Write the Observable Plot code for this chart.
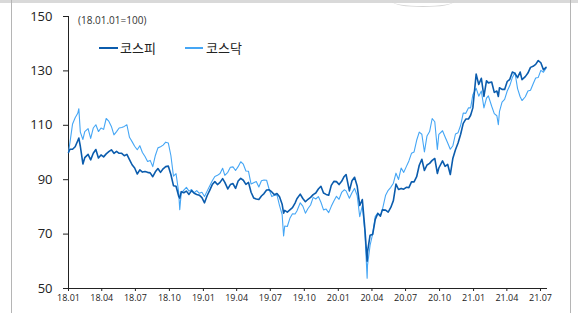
<!DOCTYPE html>
<html>
<head>
<meta charset="utf-8">
<script src="https://cdn.jsdelivr.net/npm/d3@7"></script>
<script src="https://cdn.jsdelivr.net/npm/@observablehq/plot@0.6"></script>
<style>
  body { margin: 0; background: #fff; }
  #wrap { position: relative; width: 578px; height: 313px; overflow: hidden; font-family: "Open Sans", "Noto Sans CJK KR", sans-serif; color: #222; }
  .abs { position: absolute; }
</style>
</head>
<body>
<div id="wrap">
  <div class="abs" style="left:0;top:0;width:578px;height:3px;background:#d9d9d9"></div>
  <div class="abs" style="left:392px;top:-4px;width:62px;height:10px;border-radius:50%;border-bottom:1.5px solid #d4d4d4"></div>
  <div class="abs" style="left:11px;top:0;width:1px;height:313px;background:#b5b5b5"></div>
  <div class="abs" style="left:570px;top:0;width:1px;height:313px;background:#b5b5b5"></div>
  <div id="chart" class="abs" style="left:0;top:0"></div>
  <div class="abs" style="left:78px;top:14px;font-size:10px;line-height:13px;color:#333">(18.01.01=100)</div>
  <div class="abs" style="left:99px;top:47px;width:19px;height:2px;background:#0b5cad"></div>
  <div class="abs" style="left:120px;top:39px;font-size:13px;line-height:18px;font-family:'Noto Sans CJK KR',sans-serif">코스피</div>
  <div class="abs" style="left:185px;top:47px;width:18px;height:1.5px;background:#45a6f5"></div>
  <div class="abs" style="left:206px;top:39px;font-size:13px;line-height:18px;font-family:'Noto Sans CJK KR',sans-serif">코스닥</div>
</div>
<script>
const dates = [
  "18.01.01","18.01.05","18.01.12","18.01.19","18.01.26","18.01.29",
  "18.02.02","18.02.09","18.02.14","18.02.23",
  "18.03.02","18.03.09","18.03.16","18.03.23","18.03.30",
  "18.04.06","18.04.13","18.04.20","18.04.27",
  "18.05.04","18.05.11","18.05.18","18.05.25",
  "18.06.01","18.06.08","18.06.15","18.06.22","18.06.29",
  "18.07.06","18.07.13","18.07.20","18.07.27",
  "18.08.03","18.08.10","18.08.17","18.08.24","18.08.31",
  "18.09.07","18.09.14","18.09.21","18.09.28",
  "18.10.05","18.10.12","18.10.19","18.10.26","18.10.29",
  "18.11.02","18.11.09","18.11.16","18.11.23","18.11.30",
  "18.12.07","18.12.14","18.12.21","18.12.28",
  "19.01.04","19.01.11","19.01.18","19.01.25",
  "19.02.01","19.02.08","19.02.15","19.02.22","19.02.28",
  "19.03.08","19.03.15","19.03.22","19.03.29",
  "19.04.05","19.04.12","19.04.19","19.04.26",
  "19.05.03","19.05.10","19.05.17","19.05.24","19.05.31",
  "19.06.07","19.06.14","19.06.21","19.06.28",
  "19.07.05","19.07.12","19.07.19","19.07.26",
  "19.08.02","19.08.06","19.08.09","19.08.16","19.08.23","19.08.30",
  "19.09.06","19.09.11","19.09.20","19.09.27",
  "19.10.04","19.10.11","19.10.18","19.10.25",
  "19.11.01","19.11.08","19.11.15","19.11.22","19.11.29",
  "19.12.06","19.12.13","19.12.20","19.12.27",
  "20.01.03","20.01.10","20.01.17","20.01.22","20.01.31",
  "20.02.07","20.02.14","20.02.21","20.02.28",
  "20.03.06","20.03.13","20.03.19","20.03.20","20.03.27",
  "20.04.03","20.04.10","20.04.17","20.04.24","20.04.29",
  "20.05.08","20.05.15","20.05.22","20.05.29",
  "20.06.05","20.06.12","20.06.19","20.06.26",
  "20.07.03","20.07.10","20.07.17","20.07.24","20.07.31",
  "20.08.07","20.08.14","20.08.21","20.08.28",
  "20.09.04","20.09.11","20.09.18","20.09.25","20.09.29",
  "20.10.09","20.10.16","20.10.23","20.10.30",
  "20.11.06","20.11.13","20.11.20","20.11.27",
  "20.12.04","20.12.11","20.12.18","20.12.24","20.12.30",
  "21.01.08","21.01.15","21.01.22","21.01.29",
  "21.02.05","21.02.10","21.02.19","21.02.26",
  "21.03.05","21.03.09","21.03.12","21.03.19","21.03.26",
  "21.04.02","21.04.09","21.04.16","21.04.23","21.04.30",
  "21.05.07","21.05.12","21.05.21","21.05.28",
  "21.06.04","21.06.11","21.06.18","21.06.25",
  "21.07.02","21.07.09","21.07.16"
];
const kospi = [
  100,101.2,101.2,102.1,104.3,105.3, 102.3,95.8,98.1,99.3, 97.3,99.7,101.1,98,99.1,
  98.4,99.5,100.3,101, 99.7,100.4,99.7,99.7, 98.8,99.3,97.4,95.5,94.3,
  92.1,93.6,92.8,93, 92.7,92.5,91.1,92.9,94.1, 92.7,94,94.8,95,
  91.9,87.8,87.6,84.0,83.2, 85.6,85.2,85.8,84.6,86.0, 85.0,84.6,84.3,83.4,
  81.5,84.1,86.1,88.2, 89.3,88.2,89,90.4,89, 86.6,88.2,88.6,86.8, 89.5,90.5,89.8,88.3,
  89,85.4,83.3,82.9,82.7, 84,84.9,86.2,86.3, 85.5,84.5,84.9,83.7, 81,77.7,78.7,78.1,78.9,79.7,
  81.4,83,84.7,83.1, 81.9,82.8,83.5,84.5, 85.1,86.6,87.6,85.1,84.6, 84.3,87.9,89.4,89.3,
  88.2,89.4,91.2,91.9,85.9, 89.6,90.9,87.7,80.5, 82.7,71.8,60.0,63.5,69.6, 69.9,75.4,77.6,76.6,78.9,
  78.8,78.1,79.8,82.3, 88.4,86.4,86.8,86.5, 87.2,87.1,89.2,89.2,91.1, 95.3,97.5,93.4,95.4,
  96,97.1,97.8,92.3,94.3, 96.9,94.9,95.6,91.9, 97.9,101,103.5,106.7, 110.7,112.3,112.3,113.7,116.4,
  128.8,125,127.3,120.6, 126.4,125.6,125.9,122.1, 122.6,120.6,123.8,123.2,123.2,
  126.1,126.9,129.6,129.1,127.5, 129.6,126.8,127.9,129.2, 131.3,131.7,132.4,133.8, 133,130.4,131.3
];
const kosdaq = [
  100,103.7,110.5,112.8,114.4,116.1, 107.5,104.8,107.7,108.8, 105.2,109,110.2,107.7,109,
  108.5,112.5,111.5,109.6, 106.5,107.7,109,109.2, 109.6,110.2,105.6,104,102.3,
  101,102.5,100,98.5, 96.7,97.1,94.8,98.9,101.7, 102.1,102.7,103.8,103.5,
  98.9,91.3,92.2,85.5,79.0, 85.0,86.2,87.2,85.8,86.4, 85.2,86.0,85.0,85.4,
  83.8,85.8,87.7,89.6, 91.2,91.6,92.3,94.2,91.6, 92.7,94.6,94.7,93.4, 94.8,96.6,95.7,93.2,
  93.1,88.4,88.9,89.3,87.3, 89.6,89.9,89.8,86.4, 83.8,84.3,84.4,80.5, 77.2,69.3,73,72.8,75.8,77.5,
  77.4,78.5,81.5,80.3, 77.7,79.4,80.7,83.5, 82.9,83.8,81.7,78.9,79.2, 77.9,80.2,82.2,83.9,
  82.8,85.3,86.3,85.9,83.2, 85.2,86.8,84.2,76.4, 80.5,70.5,53.8,58.5,65.9, 70.1,76.5,77.7,76.9,78.8,
  84.3,86.1,87.2,88.7, 92.4,90.1,94.3,92.7, 94.8,96.9,99.7,100.2,104.5, 107.5,106.7,100.2,106.1,
  107.7,112.5,111.3,101.1,106.7, 108,105.7,103.5,101.2, 102.5,106.8,107.3,110, 114.5,114.4,116.4,116.4,121.2,
  123.6,120.7,122.6,116.4, 120,120.8,117,114.3, 113.5,110.2,115,118.5,119.5,
  122.6,124.6,127.6,129.4,123.5, 120.5,119.1,120.5,122.6, 122.9,125.2,127.4,127.6, 130.2,129.5,131.0
];
const yTicks = [50, 70, 90, 110, 130, 150];
const xStart = "2018-01-01";
const xEnd = "2021-07-20";

const parse = d3.utcParse("%y.%m.%d");
const data = dates.map((d, i) => ({date: parse(d), k: kospi[i], q: kosdaq[i]}));
const x0 = new Date(xStart), x1 = new Date(xEnd);
const xTicks = d3.utcMonth.every(3).range(x0, x1);
const darkC = "#0b5cad", lightC = "#45a6f5";

const chart = Plot.plot({
  width: 578, height: 313,
  marginLeft: 68, marginRight: 31, marginTop: 16, marginBottom: 25,
  style: {fontFamily: "'Open Sans','Noto Sans CJK KR',sans-serif", background: "transparent", color: "#222"},
  x: {type: "utc", domain: [x0, x1]},
  y: {domain: [50, 150]},
  marks: [
    Plot.axisY({ticks: yTicks, tickSize: 5, tickPadding: 11, fontSize: 13, label: null}),
    Plot.axisX({ticks: xTicks, tickFormat: d3.utcFormat("%y.%m"), tickSize: 3, tickPadding: 3, fontSize: 9, label: null}),
    Plot.ruleX([x0], {y1: 50, y2: 150, stroke: "#222"}),
    Plot.ruleY([50], {stroke: "#222"}),
    Plot.lineY(data, {x: "date", y: "q", stroke: lightC, strokeWidth: 1.1}),
    Plot.lineY(data, {x: "date", y: "k", stroke: darkC, strokeWidth: 1.6})
  ]
});
document.getElementById("chart").appendChild(chart);
</script>
</body>
</html>
